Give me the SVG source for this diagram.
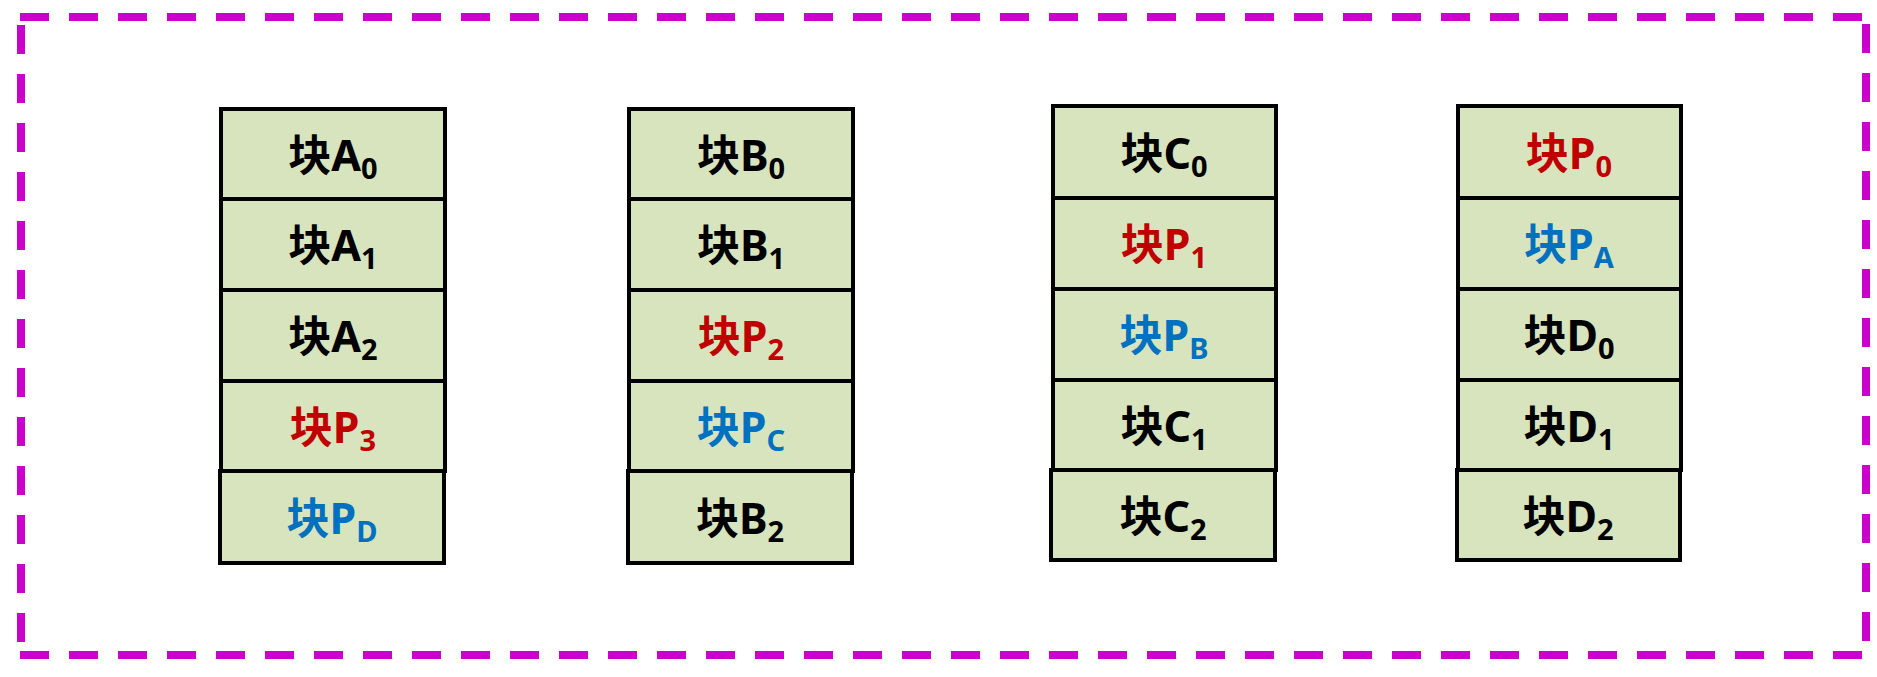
<svg xmlns="http://www.w3.org/2000/svg" width="1877" height="677" viewBox="0 0 1877 677">
<style>
.cell{fill:#D7E4BD;stroke:#000;stroke-width:4}
.t{font-family:"Noto Sans","Noto Sans CJK SC",sans-serif;font-weight:bold;font-size:43px;text-anchor:middle;fill:#000}
.r{fill:#C00000}
.b{fill:#0070C0}
.s{font-size:29px}
.frame{stroke:#CC00CC;stroke-width:8;stroke-dasharray:29 20;fill:none}
</style>
<rect width="1877" height="677" fill="#fff"/>
<g id="frame">
<line class="frame" x1="20" y1="17" x2="1870" y2="17"/>
<line class="frame" x1="21" y1="25" x2="21" y2="659"/>
<line class="frame" x1="1866" y1="24" x2="1866" y2="659"/>
<line class="frame" x1="20" y1="655" x2="1870" y2="655"/>
</g>
<g id="stackA">
<g id="A0"><rect class="cell" x="221" y="109" width="224" height="90"/><text class="t" x="333" y="171">块A<tspan class="s" dy="8">0</tspan></text></g>
<g id="A1"><rect class="cell" x="221" y="199" width="224" height="91"/><text class="t" x="333" y="261">块A<tspan class="s" dy="8">1</tspan></text></g>
<g id="A2"><rect class="cell" x="221" y="290" width="224" height="91"/><text class="t" x="333" y="352">块A<tspan class="s" dy="8">2</tspan></text></g>
<g id="AP3"><rect class="cell" x="221" y="381" width="224" height="90"/><text class="t r" x="333" y="443">块P<tspan class="s" dy="8">3</tspan></text></g>
<g id="APD"><rect class="cell" x="220" y="471" width="224" height="92"/><text class="t b" x="332" y="534">块P<tspan class="s" dy="8">D</tspan></text></g>
</g>
<g id="stackB">
<g id="B0"><rect class="cell" x="629" y="109" width="224" height="90"/><text class="t" x="741" y="171">块B<tspan class="s" dy="8">0</tspan></text></g>
<g id="B1"><rect class="cell" x="629" y="199" width="224" height="91"/><text class="t" x="741" y="261">块B<tspan class="s" dy="8">1</tspan></text></g>
<g id="BP2"><rect class="cell" x="629" y="290" width="224" height="91"/><text class="t r" x="741" y="352">块P<tspan class="s" dy="8">2</tspan></text></g>
<g id="BPC"><rect class="cell" x="629" y="381" width="224" height="90"/><text class="t b" x="741" y="443">块P<tspan class="s" dy="8">C</tspan></text></g>
<g id="B2"><rect class="cell" x="628" y="471" width="224" height="92"/><text class="t" x="740" y="534">块B<tspan class="s" dy="8">2</tspan></text></g>
</g>
<g id="stackC">
<g id="C0"><rect class="cell" x="1053" y="106" width="223" height="92"/><text class="t" x="1164" y="169">块C<tspan class="s" dy="8">0</tspan></text></g>
<g id="CP1"><rect class="cell" x="1053" y="198" width="223" height="91"/><text class="t r" x="1164" y="260">块P<tspan class="s" dy="8">1</tspan></text></g>
<g id="CPB"><rect class="cell" x="1053" y="289" width="223" height="91"/><text class="t b" x="1164" y="351">块P<tspan class="s" dy="8">B</tspan></text></g>
<g id="C1"><rect class="cell" x="1053" y="380" width="223" height="90"/><text class="t" x="1164" y="442">块C<tspan class="s" dy="8">1</tspan></text></g>
<g id="C2"><rect class="cell" x="1051" y="470" width="224" height="90"/><text class="t" x="1163" y="532">块C<tspan class="s" dy="8">2</tspan></text></g>
</g>
<g id="stackD">
<g id="DP0"><rect class="cell" x="1458" y="106" width="223" height="92"/><text class="t r" x="1569" y="169">块P<tspan class="s" dy="8">0</tspan></text></g>
<g id="DPA"><rect class="cell" x="1458" y="198" width="223" height="91"/><text class="t b" x="1569" y="260">块P<tspan class="s" dy="8">A</tspan></text></g>
<g id="D0"><rect class="cell" x="1458" y="289" width="223" height="91"/><text class="t" x="1569" y="351">块D<tspan class="s" dy="8">0</tspan></text></g>
<g id="D1"><rect class="cell" x="1458" y="380" width="223" height="90"/><text class="t" x="1569" y="442">块D<tspan class="s" dy="8">1</tspan></text></g>
<g id="D2"><rect class="cell" x="1457" y="470" width="223" height="90"/><text class="t" x="1568" y="532">块D<tspan class="s" dy="8">2</tspan></text></g>
</g>
<g id="connectors"/>
</svg>
